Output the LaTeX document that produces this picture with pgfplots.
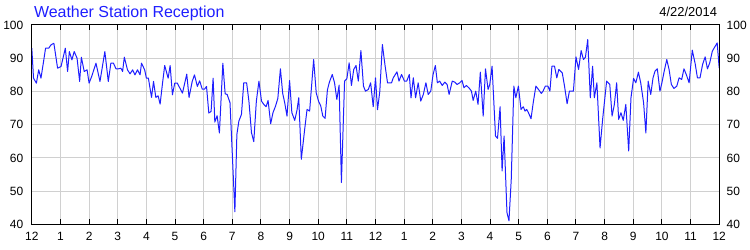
\documentclass[border=0pt]{standalone}
\usepackage{pgfplots}
\pgfplotsset{compat=1.18}
\usepackage{pgfplotstable}
\usepackage{fontspec}
\setmainfont{Liberation Sans}
\definecolor{linec}{RGB}{30,30,255}
\definecolor{gridc}{RGB}{208,208,208}
\pgfplotstableread{
h v
0.00 93
0.06 84
0.16 82.5
0.24 86.5
0.32 84
0.41 89
0.48 93
0.59 93
0.67 94
0.77 94.5
0.90 87
1.02 87.5
1.17 93
1.25 86
1.31 92
1.40 89.5
1.48 92
1.58 90
1.67 83
1.73 90.3
1.83 86
1.93 86.5
2.00 82.5
2.09 84.5
2.24 88.5
2.38 83
2.55 92
2.67 83
2.76 88.5
2.85 88.5
2.94 86.8
3.02 86.8
3.11 87
3.17 86
3.23 90.3
3.34 86.5
3.43 85.3
3.52 86.5
3.60 85
3.69 86.5
3.78 85
3.83 88.5
3.94 86.5
4.00 84
4.07 84
4.18 78.2
4.25 83
4.33 78.2
4.41 78.7
4.48 76.2
4.56 82.2
4.64 87.8
4.76 84
4.83 87.8
4.91 79
4.99 82.5
5.08 82.5
5.26 79.5
5.41 85.2
5.49 78.2
5.60 83
5.68 85
5.78 81.5
5.86 83.2
5.95 80.7
6.03 80.7
6.10 81.5
6.18 73.5
6.26 74
6.33 84
6.39 70.8
6.47 72.7
6.55 67.5
6.67 88.5
6.75 79.3
6.82 79.1
6.92 76.6
7.09 43.8
7.16 67.1
7.23 71.1
7.32 73.1
7.40 82.6
7.50 82.6
7.58 77.1
7.67 67.6
7.75 64.9
7.84 77.1
7.93 83.1
8.02 77.1
8.10 76.1
8.18 75.4
8.25 77.3
8.34 70.3
8.42 73.6
8.51 75.6
8.59 77.9
8.68 86.8
8.76 79.4
8.83 76.6
8.91 72.6
9.00 83.3
9.08 73.6
9.18 71.3
9.26 74.4
9.32 78.1
9.41 59.6
9.52 68.1
9.61 74.6
9.70 74.1
9.84 89.6
9.93 79.6
10.01 77.1
10.09 75.6
10.16 72.6
10.24 71.9
10.32 80.4
10.39 82.8
10.49 85.1
10.57 82.6
10.65 77.6
10.73 81.9
10.81 52.6
10.92 83.1
11.00 83.8
11.08 88.6
11.16 81.8
11.24 86.6
11.32 87.8
11.40 83.1
11.49 92.3
11.58 81.6
11.65 80.1
11.75 80.6
11.83 82.6
11.92 75.4
12.00 84.1
12.07 74.5
12.15 80
12.24 94.1
12.33 88
12.42 82.6
12.56 82.6
12.62 84.1
12.75 85.9
12.82 83.1
12.91 85.1
13.01 83.1
13.09 83.1
13.18 85.1
13.24 78.1
13.32 84.1
13.40 78.1
13.49 82.6
13.58 77.1
13.67 79.1
13.76 82.6
13.84 79.1
13.93 80.1
14.01 85.1
14.09 87.8
14.16 82.6
14.24 83.1
14.33 81.8
14.42 82.8
14.50 82.1
14.57 79.1
14.68 83.1
14.77 82.8
14.85 82.1
14.94 82.6
15.02 83.3
15.09 81.1
15.17 81.8
15.26 81.1
15.35 80.1
15.41 77.3
15.50 80.1
15.58 76.1
15.66 85.8
15.76 72.6
15.84 86.8
15.93 80.6
15.99 82.1
16.07 87.6
16.19 66.6
16.26 65.9
16.35 75.4
16.42 56.1
16.49 66.6
16.59 43.6
16.66 41.1
16.74 53.6
16.83 81.6
16.90 78.1
16.99 81.6
17.08 74.6
17.16 75.4
17.22 74.1
17.28 74.6
17.34 73.6
17.43 71.8
17.51 76.8
17.60 81.6
17.69 80.6
17.79 79.4
17.85 80.1
17.93 81.6
18.02 81.6
18.09 80.1
18.16 87.6
18.25 87.6
18.33 84.1
18.40 86.6
18.52 85.6
18.60 81.6
18.69 76.3
18.77 80.1
18.91 80.1
19.00 90.4
19.09 86.6
19.18 92.3
19.26 89.6
19.33 90.3
19.41 95.6
19.50 78.1
19.58 87.6
19.64 78.1
19.73 82.6
19.84 63
19.93 71.6
20.07 83.1
20.18 82.1
20.26 72.6
20.34 76.1
20.42 82.6
20.49 71.6
20.57 73.6
20.65 71.3
20.74 76.1
20.84 62.1
20.92 78.1
21.01 83.9
21.09 82.6
21.18 85.8
21.26 82.6
21.36 76.6
21.44 67.5
21.52 83.1
21.61 79.1
21.69 84.1
21.76 86.1
21.84 86.8
21.93 80.1
22.00 82.6
22.08 86.1
22.17 89.6
22.25 86.6
22.33 82.1
22.42 80.9
22.52 81.6
22.60 84.1
22.69 83.6
22.77 86.8
22.85 85.1
22.95 82.6
23.06 92.4
23.16 88.4
23.24 84.1
23.33 84.1
23.42 88.1
23.51 90.4
23.59 86.8
23.67 88.6
23.76 92.1
23.84 93.3
23.93 94.6
24.00 87
}\datatable
\begin{document}
\begin{tikzpicture}
\begin{axis}[
  name=main,
  scale only axis, width=689pt, height=200pt,
  xmin=0, xmax=24, ymin=40, ymax=100,
  xtick={0,...,24},
  xticklabels={12,1,2,3,4,5,6,7,8,9,10,11,12,1,2,3,4,5,6,7,8,9,10,11,12},
  ytick={40,50,...,100},
  grid=major, major grid style={gridc, line width=1pt},
  axis line style={black, line width=1pt},
  tick align=inside, xtick pos=both, yticklabel pos=left,
  major tick length=5pt,
  xtick style={black, line width=1pt},
  ytick style={draw=none},
  ticklabel style={font=\fontsize{12}{14}\selectfont, text=black},
  /pgf/number format/assume math mode=true,
  xticklabel style={yshift=-4pt},
  yticklabel style={xshift=-5pt},
]
\addplot[linec, line width=1pt, line join=round, mark=none] table[x=h, y=v] {\datatable};
\end{axis}
\begin{axis}[
  scale only axis, width=689pt, height=200pt,
  xmin=0, xmax=24, ymin=40, ymax=100,
  hide x axis, axis y line*=right,
  ytick={40,50,...,100},
  ytick style={draw=none},
  y axis line style={black, line width=1pt},
  ticklabel style={font=\fontsize{12}{14}\selectfont, text=black},
  /pgf/number format/assume math mode=true,
  yticklabel style={xshift=4pt},
]
\end{axis}
\node[anchor=base west, text={rgb,255:red,30;green,30;blue,255}, font=\fontsize{16}{19}\selectfont, inner sep=0pt] at ([xshift=2pt,yshift=7pt]main.north west) {Weather Station Reception};
\node[anchor=base east, text=black, font=\fontsize{13}{15}\selectfont, inner sep=0pt] at ([xshift=-2pt,yshift=8pt]main.north east) {4/22/2014};
\path ([xshift=-31pt,yshift=-25pt]main.south west) rectangle ([xshift=30pt,yshift=25pt]main.north east);
\end{tikzpicture}
\end{document}
